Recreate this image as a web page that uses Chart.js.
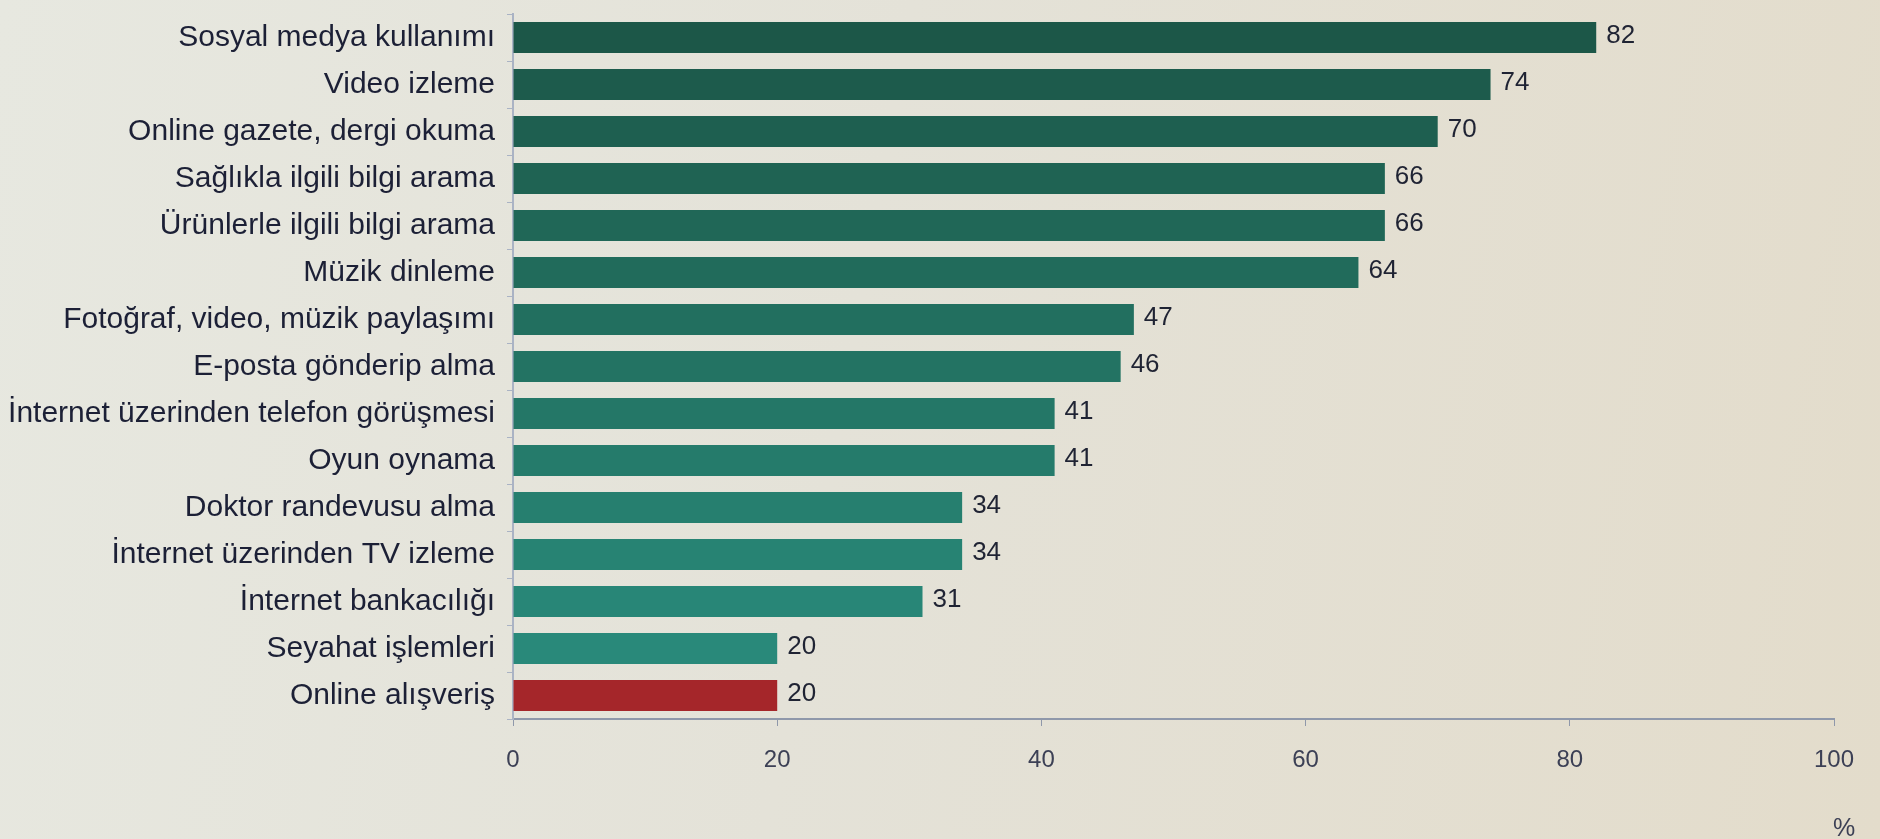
<!DOCTYPE html>
<html>
<head>
<meta charset="utf-8">
<script src="https://cdn.jsdelivr.net/npm/chart.js@4"></script>
<style>
  html, body { margin: 0; padding: 0; }
  body {
    width: 1880px; height: 839px; overflow: hidden;
    background: linear-gradient(100deg, #e7e8e0 0%, #e4e2d8 45%, #e3dccb 100%);
  }
  #wrap { position: absolute; left: 0; top: 0; width: 1880px; height: 839px; }
</style>
</head>
<body>
<div id="wrap"><canvas id="c" width="1880" height="839"></canvas></div>
<script>
// İnternet kullanım amaçları (%)
const categories = [
  'Sosyal medya kullanımı',
  'Video izleme',
  'Online gazete, dergi okuma',
  'Sağlıkla ilgili bilgi arama',
  'Ürünlerle ilgili bilgi arama',
  'Müzik dinleme',
  'Fotoğraf, video, müzik paylaşımı',
  'E-posta gönderip alma',
  'İnternet üzerinden telefon görüşmesi',
  'Oyun oynama',
  'Doktor randevusu alma',
  'İnternet üzerinden TV izleme',
  'İnternet bankacılığı',
  'Seyahat işlemleri',
  'Online alışveriş'
];
const values = [82, 74, 70, 66, 66, 64, 47, 46, 41, 41, 34, 34, 31, 20, 20];
const barColors = [
  '#1c5748', '#1d5b4c', '#1e5f50', '#1f6353', '#206757',
  '#216b5b', '#226f5f', '#237363', '#247767', '#257b6b',
  '#267f6f', '#278373', '#288677', '#29897a', '#a5262a'
];
const xTicks = [0, 20, 40, 60, 80, 100];
const unitLabel = '%';

const valueLabels = {
  id: 'valueLabels',
  afterDatasetsDraw(chart) {
    const ctx = chart.ctx;
    const meta = chart.getDatasetMeta(0);
    ctx.save();
    ctx.font = '26px "Liberation Sans", Arial, sans-serif';
    ctx.fillStyle = '#1f2333';
    ctx.textAlign = 'left';
    ctx.textBaseline = 'middle';
    meta.data.forEach((bar, i) => {
      ctx.fillText(String(values[i]), bar.x + 10, bar.y - 2);
    });
    ctx.restore();
  }
};

const unitTitle = {
  id: 'unitTitle',
  afterDraw(chart) {
    const ctx = chart.ctx;
    const xs = chart.scales.x;
    ctx.save();
    ctx.font = '25px "Liberation Sans", Arial, sans-serif';
    ctx.fillStyle = '#3c4055';
    ctx.textAlign = 'center';
    ctx.textBaseline = 'middle';
    ctx.fillText(unitLabel, xs.getPixelForValue(100) + 10, xs.bottom - 10);
    ctx.restore();
  }
};

new Chart(document.getElementById('c'), {
  type: 'bar',
  data: {
    labels: categories,
    datasets: [{
      data: values,
      backgroundColor: barColors,
      borderWidth: 0,
      barPercentage: 0.66,
      categoryPercentage: 1.0
    }]
  },
  options: {
    indexAxis: 'y',
    responsive: false,
    animation: false,
    devicePixelRatio: 1,
    layout: { padding: { left: 0, right: 46, top: 14, bottom: 0 } },
    plugins: { legend: { display: false }, tooltip: { enabled: false } },
    scales: {
      x: {
        min: 0, max: 100,
        afterBuildTicks(scale) { scale.ticks = xTicks.map(v => ({ value: v })); },
        afterFit(scale) { scale.height = 120; },
        grid: { drawOnChartArea: false, drawTicks: true, tickLength: 7, color: '#8f98aa' },
        border: { color: '#8f98aa', width: 2 },
        ticks: {
          padding: 20,
          color: '#3c4055',
          font: { family: '"Liberation Sans", Arial, sans-serif', size: 24 }
        }
      },
      y: {
        afterFit(scale) {
          scale.width = 513;
          scale.paddingTop = 0;
          scale.paddingBottom = 0;
        },
        grid: { drawOnChartArea: false, drawTicks: true, tickLength: 6, color: '#aab3c4', offset: true },
        border: { color: '#aab3c4', width: 2 },
        ticks: {
          padding: 12,
          color: '#1c2036',
          font: { family: '"Liberation Sans", Arial, sans-serif', size: 30 }
        }
      }
    }
  },
  plugins: [valueLabels, unitTitle]
});
</script>
</body>
</html>
